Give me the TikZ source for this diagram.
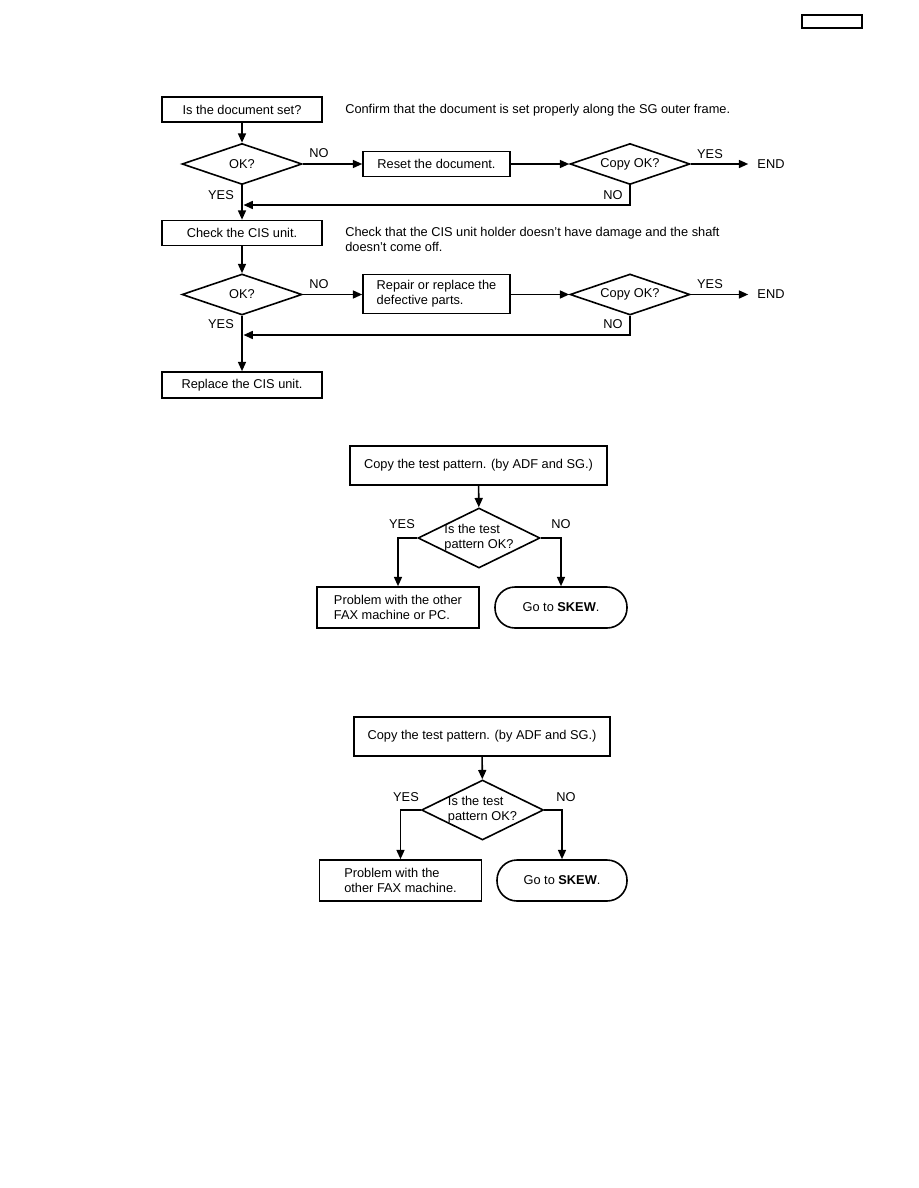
\documentclass[tikz,border=0pt]{standalone}
\usepackage{fontspec}
\setmainfont{Liberation Sans}
\usetikzlibrary{shapes.geometric, positioning, arrows.meta}

\begin{document}
\begin{tikzpicture}[x=0.75pt, y=-0.75pt,
      font=\fontsize{9.6}{11.3}\selectfont,
      box/.style={rectangle, draw, line width=1.2pt, align=left, minimum height=18.75pt, inner sep=2pt},
      check/.style={diamond, draw, line width=1.2pt, aspect=3, inner sep=0pt, minimum width=90pt, minimum height=30.75pt},
      test/.style={diamond, draw, line width=1.2pt, aspect=2, inner sep=-3pt, align=left, minimum width=91.5pt, minimum height=45pt},
      term/.style={rectangle, draw, line width=1.2pt, rounded corners=15pt, minimum height=30.75pt},
      endtxt/.style={inner xsep=6.75pt, inner ysep=0pt},
      lbl/.style={inner sep=0pt},
      arrow/.style={line width=1.2pt, -{Triangle[length=7pt, width=6pt]}}
   ]
      \useasboundingbox (0,0) rectangle (918,1188);

      % header box (top right)
      \draw[line width=1pt] (802,15) rectangle (862,28);

      % Chart 1, first check
      \node (doc)   [box, minimum width=120pt] at (242,109.5) {Is the document set?};
      \node (note1) [lbl, anchor=west] at (345,110) {Confirm that the document is set properly along the SG outer frame.};
      \node (ok1)   [check] at (242,164) {OK?};
      \node (reset) [box, minimum width=110.25pt] at (436.5,164) {Reset the document.};
      \node (copy1) [check] at (630,164) {Copy OK?};
      \node (end1)  [endtxt] at (771,164) {END};

      \node (no1)  [lbl] at (319,153) {NO};
      \node (yes1) [lbl] at (710,154) {YES};
      \node (no2)  [lbl] at (613,195) {NO};
      \node (yes2) [lbl] at (221,195) {YES};
      \coordinate (back1) at (243.5,205);

      % Chart 1, second check
      \node (cis)    [box, minimum width=120pt] at (242,233) {Check the CIS unit.};
      \node (note2)  [lbl, anchor=west, align=left] at (345,239.5) {Check that the CIS unit holder doesn't have damage and the shaft\\doesn't come off.};
      \node (ok2)    [check] at (242,294.5) {OK?};
      \node (repair) [box, minimum width=110.25pt, minimum height=29.25pt] at (436.5,294) {Repair or replace the\\defective parts.};
      \node (copy2)  [check] at (630,294.5) {Copy OK?};
      \node (end2)   [endtxt] at (771,294.5) {END};
      \node (swap)   [box, minimum width=120pt, minimum height=19.5pt] at (242,385) {Replace the CIS unit.};

      \node (no3)  [lbl] at (319,284) {NO};
      \node (yes3) [lbl] at (710,284) {YES};
      \node (no4)  [lbl] at (613,324) {NO};
      \node (yes4) [lbl] at (221,324) {YES};
      \coordinate (back2) at (243.5,335);

      % Chart 1 arrows
      \draw[arrow] (doc)   -- (ok1);
      \draw[arrow] (ok1)   -- (reset);
      \draw[arrow] (reset) -- (copy1);
      \draw[arrow] (copy1) -- (end1);
      \draw[arrow] (copy1.south) |- (back1);
      \draw[arrow] (ok1)   -- (cis);
      \draw[arrow] (cis)   -- (ok2);
      \draw[arrow] (ok2)   -- (ok2 -| repair.west);
      \draw[arrow] (repair.east |- copy2) -- (copy2);
      \draw[arrow] (copy2) -- (end2);
      \draw[arrow] (copy2.south) |- (back2);
      \draw[arrow] (ok2)   -- (swap);

      % Chart 2
      \node (copyA) [box, minimum width=192.75pt, minimum height=29.25pt] at (478.5,465.5) {Copy the test pattern. (by ADF and SG.)};
      \node (testA) [test] at (479,538) {Is the test\\pattern OK?};
      \node (probA) [box, minimum width=121.5pt, minimum height=30.75pt] at (398,607.5) {Problem with the other\\FAX machine or PC.};
      \node (skewA) [term, minimum width=99pt] at (561,607.5) {Go to \textbf{SKEW}.};
      \node (yesA) [lbl] at (402,524) {YES};
      \node (noA)  [lbl] at (561,524) {NO};

      \draw[arrow] (copyA) -- (testA);
      \draw[arrow] (testA) -| (probA);
      \draw[arrow] (testA) -| (skewA);

      % Chart 3
      \node (copyB) [box, minimum width=192pt, minimum height=29.25pt] at (482,736.5) {Copy the test pattern. (by ADF and SG.)};
      \node (testB) [test] at (482.5,810) {Is the test\\pattern OK?};
      \node (probB) [box, minimum width=121.5pt, minimum height=30.75pt] at (400.5,880.5) {Problem with the\\other FAX machine.};
      \node (skewB) [term, minimum width=97.5pt] at (562,880.5) {Go to \textbf{SKEW}.};
      \node (yesB) [lbl] at (406,797) {YES};
      \node (noB)  [lbl] at (566,797) {NO};

      \draw[arrow] (copyB) -- (testB);
      \draw[arrow] (testB) -| (probB);
      \draw[arrow] (testB) -| (skewB);
   \end{tikzpicture}
\end{document}
